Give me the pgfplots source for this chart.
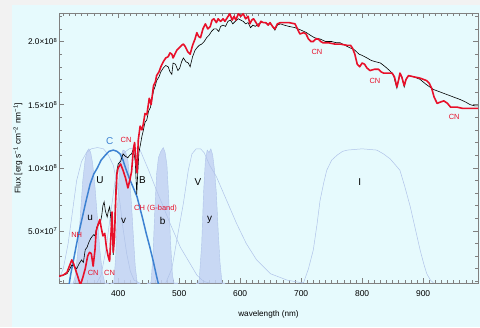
\documentclass[border=0pt]{standalone}
\usepackage{pgfplots}
\pgfplotsset{compat=1.18}
\usepackage{fontspec}
\setmainfont{Liberation Sans}
\definecolor{bgc}{HTML}{E6FAFD}
\definecolor{gm}{HTML}{F2F2F2}
\definecolor{specred}{HTML}{E8102A}
\definecolor{filt}{HTML}{C3D3F3}
\definecolor{filtline}{HTML}{B0C3E9}
\definecolor{cblue}{HTML}{3D82D2}
\definecolor{axg}{HTML}{808080}
\begin{document}
\begin{tikzpicture}[x=1bp,y=1bp]
\fill[gm] (-59,-44) rectangle (421,283);
\fill[bgc] (-47,-44) rectangle (421,278);
\begin{axis}[at={(0,0)}, anchor=south west, scale only axis,
  width=419bp, height=270bp,
  xmin=303, xmax=990, ymin=0.087, ymax=2.226,
  axis line style={axg},
  xtick={400,500,...,900},
  minor xtick={310,320,...,990},
  ytick={0.5,1,1.5,2},
  minor ytick={0.1,0.2,...,2.2},
  yticklabels={5.0×10\textsuperscript{7},1.0×10\textsuperscript{8},1.5×10\textsuperscript{8},2.0×10\textsuperscript{8}},
  tick align=inside,
  tick style={axg, line width=0.5bp},
  major tick length=5bp, minor tick length=2.8bp,
  /pgf/number format/assume math mode=true,
  xticklabel style={font=\fontsize{8.5}{9}\selectfont, yshift=-4.5bp},
  yticklabel style={font=\fontsize{8.3}{9}\selectfont, inner xsep=1.5bp},
  xlabel={wavelength (nm)},
  ylabel={Flux [erg s\textsuperscript{−1} cm\textsuperscript{−2} nm\textsuperscript{−1}]},
  xlabel style={font=\fontsize{8.2}{9}\selectfont, at={(axis description cs:0.5,-0.115)}, anchor=center},
  ylabel style={font=\fontsize{8.4}{9}\selectfont, at={(axis description cs:-0.098,0.5)}, anchor=center},
  clip=true,
]
% filled narrow filters (u v b y)
\addplot[fill=filt, fill opacity=0.85, draw=filtline, line width=0.4bp] coordinates {
(320,0) (326,0.08) (330,0.15) (334,0.35) (338,0.62) (342,0.9) (346,1.07) (349,1.13) (352,1.15) (355,1.12) (358,1.04) (362,0.85) (366,0.6) (370,0.35) (374,0.17) (378,0.09) (384,0)} \closedcycle;
\addplot[fill=filt, fill opacity=0.85, draw=filtline, line width=0.4bp] coordinates {
(388,0) (393,0.1) (396,0.3) (399,0.7) (402,0.98) (405,1.1) (408,1.14) (412,1.13) (416,1.06) (419,0.9) (422,0.7) (425,0.45) (428,0.22) (431,0.1) (436,0)} \closedcycle;
\addplot[fill=filt, fill opacity=0.85, draw=filtline, line width=0.4bp] coordinates {
(448,0) (454,0.1) (457,0.3) (460,0.65) (463,0.95) (466,1.08) (470,1.13) (474,1.16) (477,1.12) (480,1.02) (483,0.75) (486,0.4) (489,0.15) (493,0.05) (498,0)} \closedcycle;
\addplot[fill=filt, fill opacity=0.85, draw=filtline, line width=0.4bp] coordinates {
(528,0) (533,0.12) (537,0.4) (540,0.8) (543,1.06) (546,1.14) (549,1.12) (552,1.15) (555,1.1) (558,0.98) (561,0.8) (564,0.5) (567,0.25) (570,0.1) (575,0)} \closedcycle;
% outline broad filters (U B V I)
\addplot[filtline, line width=0.5bp] coordinates {
(303,0.12) (310,0.2) (318,0.4) (325,0.65) (332,0.9) (340,1.05) (348,1.12) (356,1.15) (366,1.16) (376,1.15) (384,1.1) (392,1.02) (398,0.88) (403,0.72) (408,0.52) (414,0.32) (420,0.18) (426,0.11) (435,0.087)};
\addplot[filtline, line width=0.5bp] coordinates {
(365,0.087) (372,0.15) (380,0.35) (388,0.65) (395,0.9) (402,1.05) (410,1.12) (418,1.15) (428,1.16) (436,1.14) (443,1.06) (450,0.98) (463,0.82) (475,0.68) (485,0.56) (502,0.37) (518,0.24) (529,0.15) (540,0.1) (550,0.087)};
\addplot[filtline, line width=0.5bp] coordinates {
(478,0.087) (488,0.2) (497,0.45) (507,0.72) (515,0.98) (521,1.11) (528,1.15) (535,1.15) (541,1.12) (550,1.02) (561,0.93) (578,0.74) (594,0.56) (610,0.40) (627,0.27) (650,0.16) (677,0.11) (703,0.087)};
\addplot[filtline, line width=0.5bp] coordinates {
(700,0.087) (704,0.09) (712,0.2) (720,0.35) (726,0.55) (731,0.74) (737,0.88) (742,0.98) (750,1.06) (759,1.10) (768,1.13) (776,1.14) (800,1.15) (824,1.14) (835,1.11) (846,1.07) (855,1.02) (862,0.98) (870,0.85) (879,0.69) (887,0.52) (895,0.35) (901,0.24) (906,0.16) (912,0.11) (917,0.087)};
% Washington C
\addplot[cblue, line width=1.5bp] coordinates {
(317,0) (322,0.15) (328,0.3) (334,0.45) (340,0.58) (347,0.73) (354,0.87) (360,0.95) (366,1.0) (372,1.06) (379,1.10) (385,1.13) (392,1.14) (398,1.13) (403,1.11) (408,1.06) (412,1.0) (418,0.92) (425,0.84) (431,0.77) (440,0.6) (446,0.48) (452,0.37) (458,0.25) (463,0.14) (467,0.06) (470,0)};
% model spectrum (black)
\addplot[black, line width=0.6bp] coordinates {
(303,0.14) (310,0.15) (316,0.16) (321,0.2) (324,0.23) (328,0.22) (332,0.2) (336,0.24) (340,0.27) (343,0.25) (346,0.35) (349,0.37) (352,0.41) (355,0.44) (358,0.46) (360,0.47) (362,0.46) (365,0.53) (368,0.55) (371,0.57) (373,0.62) (375,0.7) (377,0.73) (379,0.66) (382,0.61) (384,0.66) (386,0.69) (388,0.6) (389,0.52) (391,0.4) (392,0.31) (394,0.5) (396,0.82) (398,0.98) (400,1.03) (404,1.05) (408,1.11) (412,1.09) (416,1.08) (419,1.10) (422,1.11) (425,1.15) (428,1.05) (430.5,0.79) (432,0.95) (434,1.12) (436,1.17) (439,1.25) (441,1.29) (444,1.36) (447,1.38) (450,1.45) (453,1.48) (456,1.56) (458,1.61) (461,1.65) (463,1.69) (467,1.72) (470,1.76) (474,1.79) (478,1.81) (482,1.8) (485,1.76) (488,1.74) (490,1.83) (494,1.82) (498,1.77) (501,1.79) (504,1.84) (507,1.87) (511,1.84) (515,1.83) (518,1.8) (522,1.88) (526,1.93) (529,1.95) (533,1.97) (537,1.98) (541,2.0) (545,2.03) (549,2.05) (553,2.08) (557,2.1) (561,2.1) (565,2.08) (568,2.12) (572,2.13) (576,2.12) (580,2.16) (584,2.17) (588,2.14) (592,2.16) (597,2.18) (601,2.17) (605,2.16) (609,2.14) (613,2.15) (617,2.11) (621,2.13) (625,2.12) (630,2.14) (635,2.15) (640,2.15) (645,2.14) (650,2.14) (653,2.12) (657,2.09) (661,2.13) (666,2.14) (672,2.13) (680,2.12) (690,2.11) (700,2.09) (709,2.07) (715,2.05) (722,2.03) (731,2.02) (740,2.0) (750,2.0) (758,1.99) (764,1.99) (772,1.97) (780,1.95) (786,1.94) (795,1.9) (800,1.89) (808,1.87) (815,1.85) (822,1.84) (830,1.83) (838,1.8) (845,1.77) (851,1.74) (857,1.63) (860,1.7) (862,1.74) (865,1.72) (869,1.64) (872,1.7) (876,1.73) (885,1.72) (895,1.70) (905,1.66) (917,1.62) (928,1.60) (939,1.58) (950,1.56) (961,1.54) (970,1.52) (977,1.50) (985,1.49) (990,1.49)};
% observed spectrum (red)
\addplot[specred, line width=1.6bp, line join=round] coordinates {
(303,0.14) (310,0.15) (316,0.17) (320,0.22) (324,0.27) (327,0.24) (331,0.18) (335,0.12) (338,0.07) (342,0.13) (346,0.2) (350,0.3) (353,0.33) (356,0.32) (359,0.22) (362,0.35) (364,0.5) (367,0.55) (370,0.59) (372,0.53) (375,0.46) (378,0.48) (381,0.36) (384,0.29) (386,0.26) (388,0.45) (390,0.65) (392,0.33) (394,0.45) (396,0.75) (398,0.95) (400,1.0) (404,1.03) (408,0.98) (412,0.92) (416,0.84) (419,0.9) (422,0.97) (425,1.15) (427,1.2) (429,1.05) (431,0.96) (433,1.22) (436,1.33) (439,1.3) (441,1.34) (444,1.43) (447,1.42) (451,1.55) (454,1.5) (458,1.65) (461,1.68) (463,1.73) (467,1.76) (470,1.8) (474,1.84) (478,1.87) (482,1.88) (485,1.91) (488,1.9) (490,1.87) (493,1.9) (496,1.93) (500,1.95) (504,1.97) (507,1.98) (510,1.96) (514,1.92) (518,1.9) (522,1.97) (526,2.02) (529,2.07) (532,2.04) (535,2.03) (539,2.1) (543,2.14) (547,2.1) (551,2.12) (554,2.17) (557,2.18) (561,2.15) (564,2.18) (568,2.16) (572,2.18) (575,2.16) (579,2.19) (583,2.22) (587,2.17) (590,2.2) (593,2.17) (597,2.22) (601,2.2) (605,2.22) (609,2.18) (613,2.2) (616,2.14) (619,2.17) (622,2.18) (626,2.15) (630,2.12) (634,2.16) (638,2.15) (642,2.15) (646,2.13) (649,2.15) (653,2.12) (657,2.10) (661,2.14) (666,2.15) (680,2.15) (690,2.14) (694,2.1) (698,2.06) (704,2.07) (708,2.06) (712,2.02) (716,2.0) (720,2.0) (724,2.02) (728,2.02) (732,2.0) (736,1.99) (745,1.99) (755,1.98) (764,1.98) (775,1.97) (781,1.97) (784,1.95) (788,1.9) (792,1.82) (796,1.8) (800,1.83) (804,1.82) (808,1.79) (813,1.77) (820,1.78) (827,1.78) (831,1.76) (835,1.75) (849,1.75) (853,1.72) (857,1.64) (860,1.7) (862,1.75) (865,1.72) (869,1.65) (872,1.7) (876,1.73) (885,1.72) (895,1.71) (906,1.69) (910,1.67) (914,1.63) (918,1.56) (923,1.51) (928,1.52) (934,1.53) (940,1.51) (945,1.48) (956,1.48) (965,1.47) (975,1.47) (982,1.47) (990,1.47)};
% filter labels
\begin{scope}[every node/.style={font=\fontsize{10}{11}\selectfont, inner sep=0pt}]
\node at (axis cs:370,0.90) {U};
\node at (axis cs:440,0.90) {B};
\node at (axis cs:531,0.89) {V};
\node at (axis cs:796,0.89) {I};
\node at (axis cs:354,0.60) {u};
\node at (axis cs:409,0.58) {v};
\node at (axis cs:473,0.58) {b};
\node at (axis cs:550,0.59) {y};
\node[text=cblue] at (axis cs:386,1.21) {C};
\end{scope}
\begin{scope}[every node/.style={font=\fontsize{7.5}{8}\selectfont, inner sep=0pt, text=specred}]
\node at (axis cs:413,1.22) {CN};
\node[anchor=west] at (axis cs:426,0.68) {CH (G-band)};
\node at (axis cs:332,0.47) {NH};
\node at (axis cs:359,0.17) {CN};
\node at (axis cs:386,0.17) {CN};
\node at (axis cs:726,1.92) {CN};
\node at (axis cs:821,1.69) {CN};
\node at (axis cs:951,1.40) {CN};
\end{scope}
\end{axis}
\end{tikzpicture}
\end{document}
